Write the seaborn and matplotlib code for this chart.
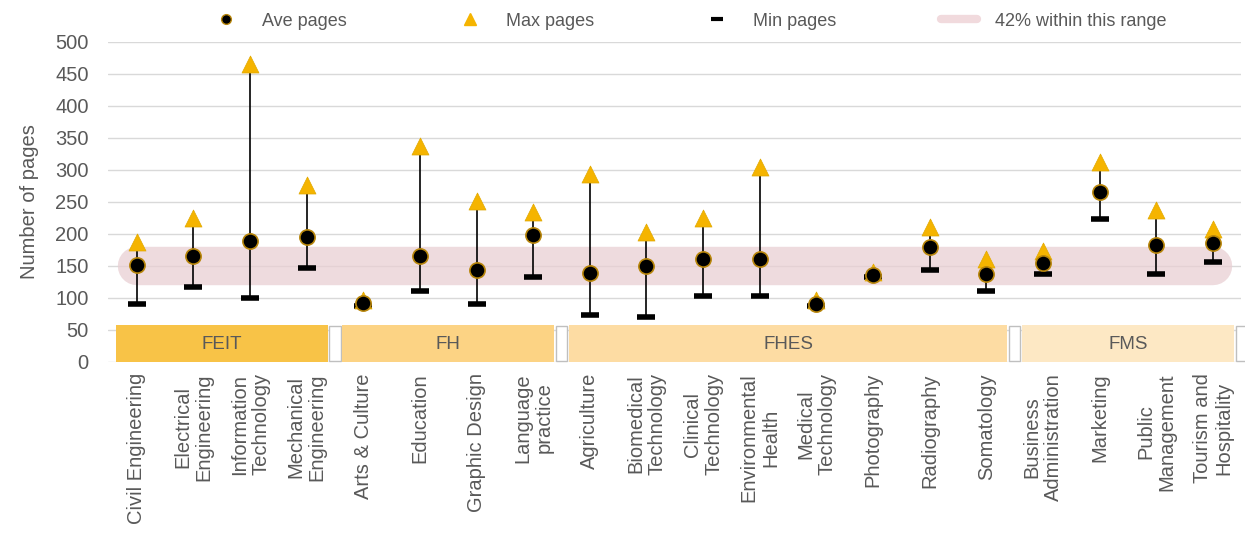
import numpy as np
import pandas as pd
import matplotlib.pyplot as plt
from matplotlib.lines import Line2D
from matplotlib.patches import Rectangle
import seaborn as sns

# datos del grafico
programmes = ['Civil Engineering', 'Electrical\nEngineering', 'Information\nTechnology',
              'Mechanical\nEngineering', 'Arts & Culture', 'Education', 'Graphic Design',
              'Language\npractice', 'Agriculture', 'Biomedical\nTechnology', 'Clinical\nTechnology',
              'Environmental\nHealth', 'Medical\nTechnology', 'Photography', 'Radiography',
              'Somatology', 'Business\nAdministration', 'Marketing', 'Public\nManagement',
              'Tourism and\nHospitality']
ave_pages = [152, 166, 189, 195, 92, 166, 143, 198, 139, 150, 160, 160, 91, 136, 180, 137, 154, 266, 183, 186]
max_pages = [187, 225, 466, 277, 97, 338, 252, 234, 294, 203, 225, 304, 96, 140, 211, 161, 173, 312, 237, 208]
min_pages = [90, 117, 100, 147, 88, 110, 90, 133, 73, 70, 103, 103, 88, 133, 144, 110, 137, 223, 137, 156]

faculties = ['FEIT', 'FH', 'FHES', 'FMS']
faculty_size = [4, 4, 8, 4]
faculty_colors = ['#f8c347', '#fcd384', '#fddca3', '#fde8c4']

band_low, band_high = 120, 180

df = pd.DataFrame({'programme': programmes, 'ave': ave_pages, 'max': max_pages, 'min': min_pages})
df['pos'] = np.arange(len(df))

sns.set_style('white')
plt.rcParams['font.family'] = ['Liberation Sans', 'DejaVu Sans']
grey = '#595959'

fig, ax = plt.subplots(figsize=(12.45, 5.5), dpi=100)
fig.subplots_adjust(left=0.087, right=0.997, top=0.924, bottom=0.342)

ax.set_ylim(0, 500)
ax.set_xlim(-0.5, len(df) - 0.5)
ax.set_yticks(np.arange(0, 501, 50))
ax.grid(axis='y', color='#d9d9d9', linewidth=1)
ax.set_axisbelow(True)
sns.despine(ax=ax, left=True, bottom=True)

# banda rosa (rango del 42%)
px_per_unit = ax.get_window_extent().height / 500
band_w = (band_high - band_low) * px_per_unit * 72 / fig.dpi
mid = (band_low + band_high) / 2
ax.plot([0, len(df) - 1], [mid, mid], color='#e9cfd3', alpha=0.75,
        linewidth=band_w, solid_capstyle='round', zorder=1)

# cajas de facultades
start = 0
for name, n, col in zip(faculties, faculty_size, faculty_colors):
    x0 = start - 0.5 + 0.13
    x1 = start + n - 0.5 - 0.13
    ax.add_patch(Rectangle((x0, 0), x1 - x0, 57, facecolor=col, edgecolor='none', zorder=2))
    ax.text((x0 + x1) / 2, 27, name, ha='center', va='center', color=grey, fontsize=13.5, zorder=3)
    # separador
    ax.add_patch(Rectangle((start + n - 0.5 - 0.1, 1), 0.2, 55, facecolor='white',
                           edgecolor='#bfbfbf', linewidth=1, zorder=2, clip_on=False))
    start += n

# lineas min-max
ax.vlines(df['pos'], df['min'], df['max'], color='black', linewidth=1.2, zorder=3)

sns.scatterplot(data=df, x='pos', y='min', marker='_', s=170, linewidth=4.0,
                color='black', ax=ax, zorder=4, legend=False)
sns.scatterplot(data=df, x='pos', y='max', marker='^', s=150, color='#f5b400',
                edgecolor='#e0a800', linewidth=0.5, ax=ax, zorder=5, legend=False)
sns.scatterplot(data=df, x='pos', y='ave', marker='o', s=120, color='black',
                edgecolor='#b8860b', linewidth=1.2, ax=ax, zorder=6, legend=False)

ax.set_xticks(df['pos'])
ax.set_xticklabels(df['programme'], rotation=90, multialignment='center', color=grey,
                   fontsize=14.5, linespacing=1.15)
ax.tick_params(axis='x', length=0, pad=8)
ax.tick_params(axis='y', length=0, labelcolor=grey, labelsize=14.5, pad=14)
ax.set_xlabel('')
ax.set_ylabel('Number of pages', color=grey, fontsize=14.5, labelpad=12)

handles = [
    Line2D([], [], marker='o', linestyle='none', markersize=7, markerfacecolor='black',
           markeredgecolor='#b8860b'),
    Line2D([], [], marker='^', linestyle='none', markersize=8, color='#f5b400'),
    Line2D([], [], marker='_', linestyle='none', markersize=9, markeredgewidth=3, color='black'),
    Line2D([], [], color='#f1dadd', linewidth=6),
]
labels = ['Ave pages', 'Max pages', 'Min pages', '42% within this range']
fig.legend(handles, labels, loc='center left', bbox_to_anchor=(208 / 1245, 1 - 21 / 550), ncol=4,
           frameon=False, columnspacing=5.8, handletextpad=1.0, fontsize=13,
           labelcolor=grey, handlelength=2.0, borderpad=0, borderaxespad=0)

plt.savefig('out.png', dpi=100)
